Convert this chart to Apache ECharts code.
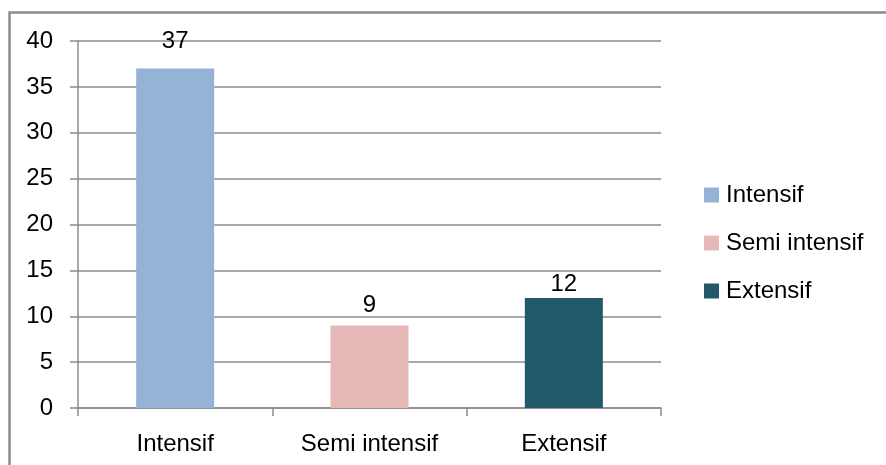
<!DOCTYPE html>
<html>
<head>
<meta charset="utf-8">
<script src="https://cdn.jsdelivr.net/npm/echarts@6/dist/echarts.min.js"></script>
<style>
html,body{margin:0;padding:0;background:#fff;}
#c{width:886px;height:465px;}
</style>
</head>
<body>
<div id="c"></div>
<script>
var categories = ['Intensif', 'Semi intensif', 'Extensif'];
var seriesNames = ['Intensif', 'Semi intensif', 'Extensif'];
var values = [37, 9, 12];
var yTicks = [0, 5, 10, 15, 20, 25, 30, 35, 40];

var colors = ['#95B3D7', '#E6B9B8', '#215968'];
var labelDist = [15, 8, 2];
var FONT = 'Liberation Sans';

var chart = echarts.init(document.getElementById('c'), null, {renderer: 'canvas'});

var series = seriesNames.map(function (name, i) {
  var d = categories.map(function (c, j) { return j === i ? values[i] : '-'; });
  return {
    name: name,
    type: 'bar',
    stack: 'all',
    barWidth: 78,
    data: d,
    itemStyle: {color: colors[i]},
    label: {
      show: true,
      position: 'top',
      distance: labelDist[i],
      color: '#000',
      fontFamily: FONT,
      fontSize: 24
    },
    emphasis: {disabled: true},
    animation: false
  };
});

chart.setOption({
  animation: false,
  graphic: [{
    type: 'rect',
    shape: {x: 9.5, y: 12.5, width: 1000, height: 600},
    style: {fill: 'none', stroke: '#8c8c8c', lineWidth: 2.5},
    silent: true
  }],
  grid: {left: 78, right: 225, top: 41, bottom: 57, containLabel: false},
  legend: {
    orient: 'vertical',
    left: 704,
    top: 183,
    padding: 0,
    itemWidth: 15,
    itemHeight: 15,
    itemGap: 24,
    icon: 'rect',
    data: seriesNames,
    textStyle: {fontFamily: FONT, fontSize: 24, color: '#000', padding: [0, 0, 0, 2]},
    selectedMode: false
  },
  xAxis: {
    type: 'category',
    data: categories,
    axisLine: {lineStyle: {color: '#8c8c8c', width: 1.5}},
    axisTick: {show: true, length: 8, alignWithLabel: false, lineStyle: {color: '#8c8c8c', width: 1.5}},
    axisLabel: {fontFamily: FONT, fontSize: 24, color: '#000', margin: 24}
  },
  yAxis: {
    type: 'value',
    min: yTicks[0],
    max: yTicks[yTicks.length - 1],
    interval: yTicks[1] - yTicks[0],
    axisLine: {show: true, lineStyle: {color: '#8c8c8c', width: 1.5}},
    axisTick: {show: true, length: 8, lineStyle: {color: '#8c8c8c', width: 1.5}},
    axisLabel: {fontFamily: FONT, fontSize: 24, color: '#000', margin: 25},
    splitLine: {show: true, lineStyle: {color: '#8c8c8c', width: 1.5}}
  },
  series: series
});
</script>
</body>
</html>
